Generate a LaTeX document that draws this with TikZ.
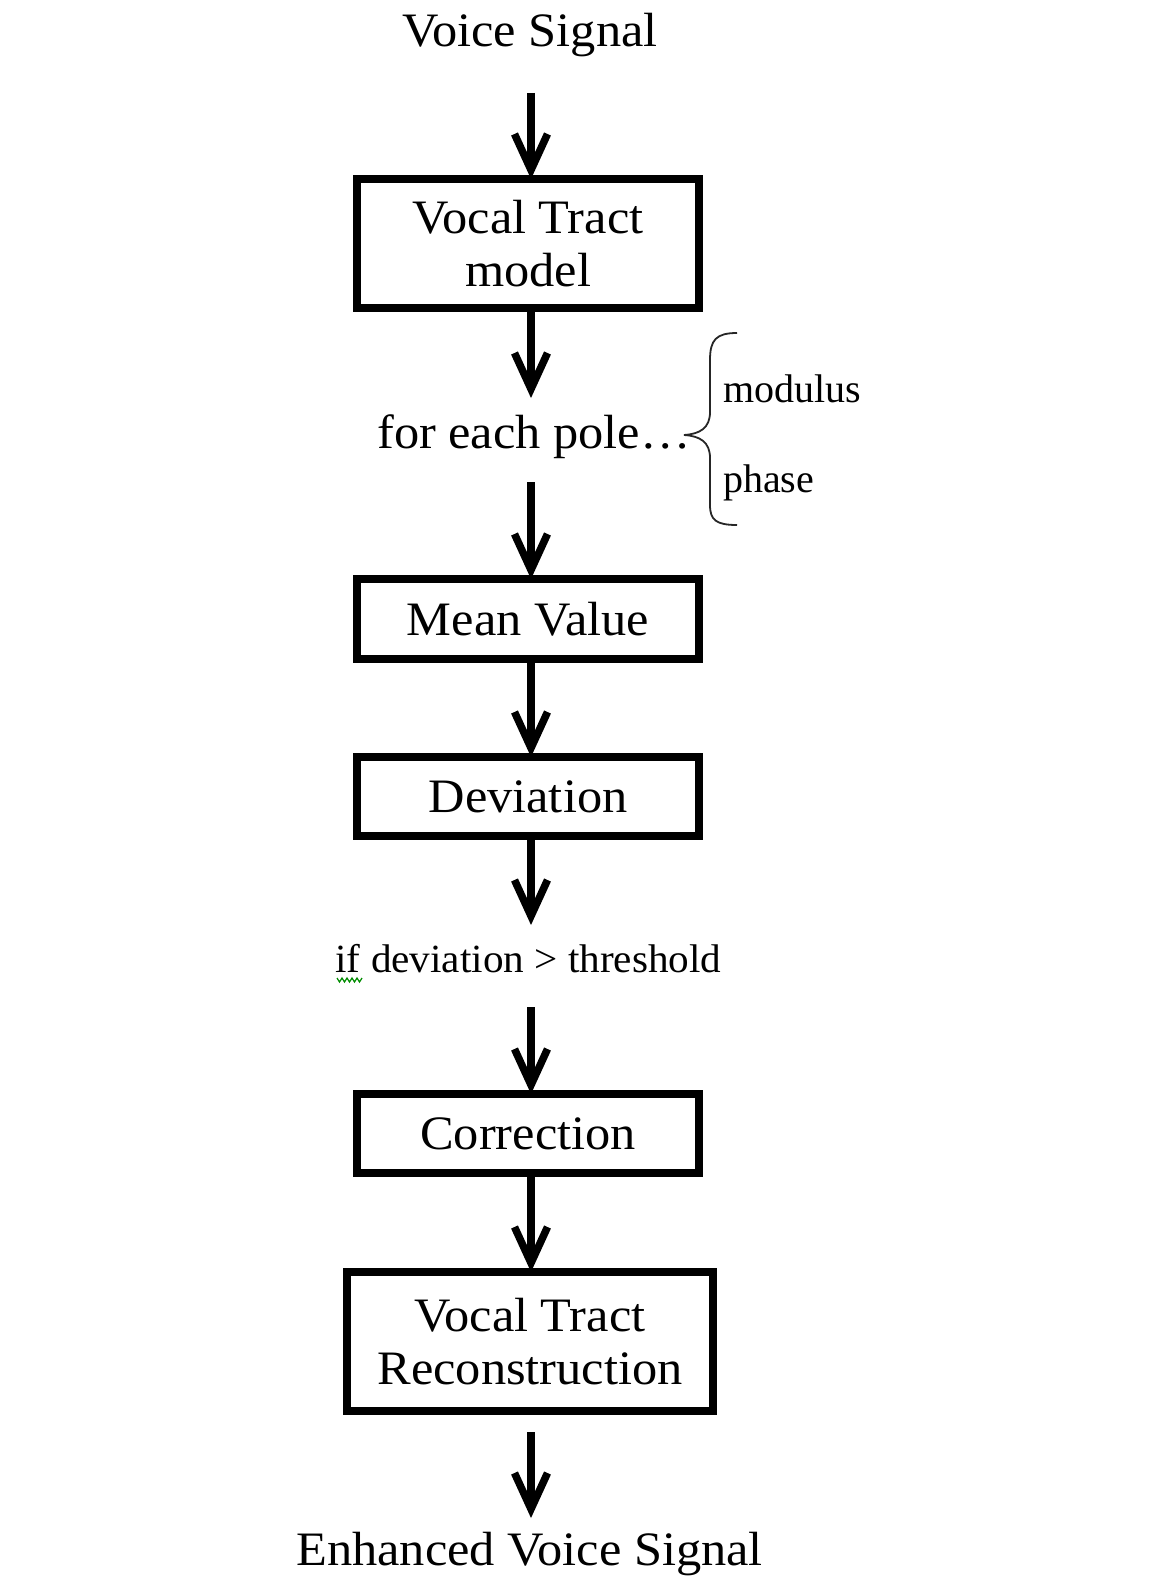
\documentclass[tikz,border=0pt]{standalone}
\usepackage{fontspec}
\setmainfont{Liberation Serif}[FakeStretch=1.05]
\newfontfamily\plainserif{Liberation Serif}
\newfontfamily\widerserif{Liberation Serif}[FakeStretch=1.03]
\usetikzlibrary{arrows.meta}
\begin{document}
\begin{tikzpicture}[x=1pt,y=-1pt,
  big/.style={font=\fontsize{48}{53}\selectfont},
  small/.style={font=\plainserif\fontsize{40}{46}\selectfont},
  smallwide/.style={font=\widerserif\fontsize{40}{46}\selectfont},
  lbl/.style={inner sep=0pt, outer sep=0pt, anchor=base, text depth=0pt},
  box/.style={draw, line width=7.5pt, inner sep=0pt, outer sep=0pt, align=center, fill=white, big},
  arr/.style={line width=7.5pt, -{Straight Barb[length=36pt,width=33pt]}},
  brace/.style={line width=1.8pt, black!85}]
\useasboundingbox[fill=white] (0,0) rectangle (1151,1578);
\coordinate (ax) at (531,0);
% nodes
\node[lbl,big,text height=34pt] (vs) at (530,47) {Voice Signal};
\node[box, minimum width=342pt, minimum height=129pt] (vt) at (528,243.5) {Vocal Tract\\model};
\node[lbl,big,text height=34pt] (fe) at (534,448) {for each pole…};
\node[lbl,small,anchor=base west] (mo) at (723,402) {modulus};
\node[lbl,small,anchor=base west] (ph) at (723,492) {phase};
\node[box, minimum width=342pt, minimum height=80pt] (mv) at (528,619) {Mean Value};
\node[box, minimum width=342pt, minimum height=79pt] (dv) at (528,796.5) {Deviation};
\node[lbl,smallwide,text height=28pt] (th) at (528.5,972) {if deviation > threshold};
\node[box, minimum width=342pt, minimum height=79pt] (co) at (528,1133.5) {Correction};
\node[box, minimum width=366pt, minimum height=139pt] (vr) at (530,1341.5) {Vocal Tract\\Reconstruction};
\node[lbl,big,text height=34pt] (ev) at (529.5,1565) {Enhanced Voice Signal};
% connectors
\draw[arr, shorten <=46pt] (vs.south -| ax) -- (vt.north -| ax);
\draw[arr, shorten >=16pt] (vt.south -| ax) -- (fe.north -| ax);
\draw[arr, shorten <=34pt] (fe.south -| ax) -- (mv.north -| ax);
\draw[arr] (mv.south -| ax) -- (dv.north -| ax);
\draw[arr, shorten >=19pt] (dv.south -| ax) -- (th.north -| ax);
\draw[arr, shorten <=35pt] (th.south -| ax) -- (co.north -| ax);
\draw[arr] (co.south -| ax) -- (vr.north -| ax);
\draw[arr, shorten <=21pt, shorten >=13pt] (vr.south -| ax) -- (ev.north -| ax);
% brace
\draw[brace] (737,333) .. controls (716,333) and (710,340) .. (710,360)
  -- (710,412) .. controls (710,428) and (700,434) .. (684,435)
  .. controls (700,436) and (710,442) .. (710,458)
  -- (710,505) .. controls (710,520) and (716,525) .. (737,525);
% spell-check squiggle under "if"
\draw[green!55!black, line width=1.2pt] (337,978) -- (339.5,982) -- (342,978) -- (344.5,982) -- (347,978) -- (349.5,982) -- (352,978) -- (354.5,982) -- (357,978) -- (359.5,982) -- (362,978);
\end{tikzpicture}
\end{document}
